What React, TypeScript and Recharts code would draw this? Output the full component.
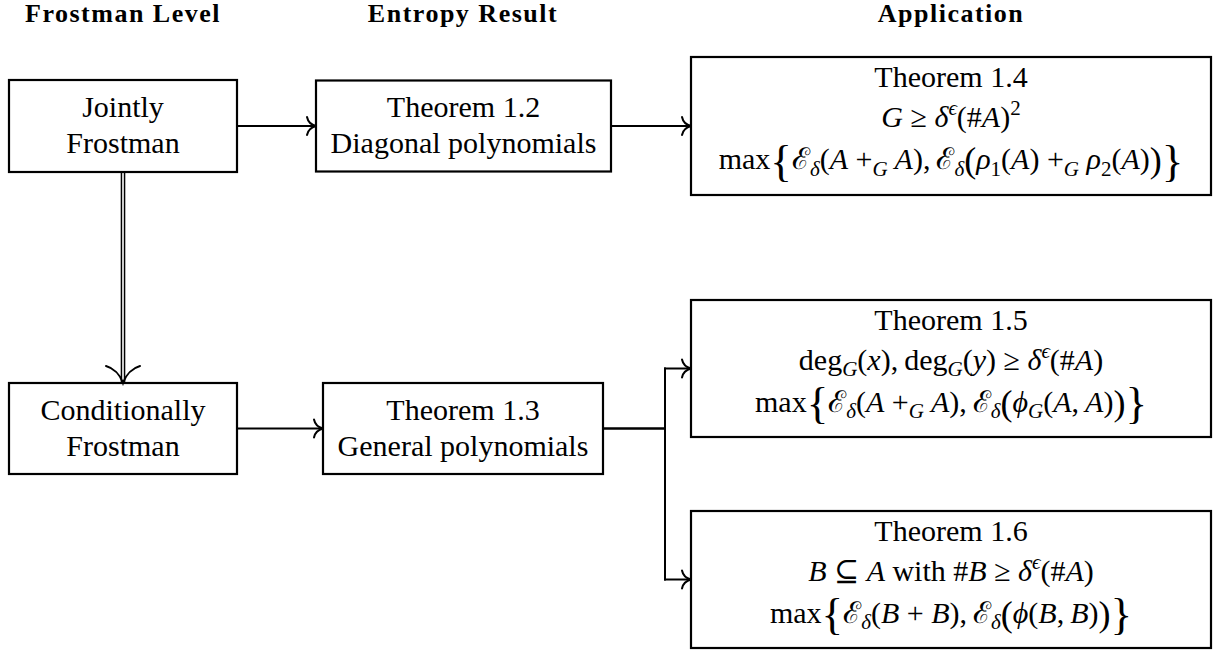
import React from 'react';
import { ScatterChart, Scatter, XAxis, YAxis, ReferenceLine } from 'recharts';

type Seg = [string, string];
type Line = Seg[];

const W = 1231;
const H = 652;

// column headers
const headers = ['Frostman Level', 'Entropy Result', 'Application'];
const headerX = [123, 463, 951];
const headerY = [22, 22, 22];

// nodes (centre of each box in chart units)
const nodeIds = ['jointly', 'thm12', 'thm14', 'conditionally', 'thm13', 'thm15', 'thm16'];
const nodeX = [123, 463.5, 951, 123, 463, 951, 951];
const nodeY = [126, 126, 126, 428.5, 428.5, 368.5, 579.5];

// r roman, i italic, sub/isub subscript, sup/isup superscript, big/big2 delimiters
const nodeLines: Line[][] = [
  [[['Jointly', 'r']], [['Frostman', 'r']]],
  [[['Theorem 1.2', 'r']], [['Diagonal polynomials', 'r']]],
  [
    [['Theorem 1.4', 'r']],
    [['G', 'i'], [' ≥ ', 'r'], ['δ', 'i'], ['ϵ', 'isup'], ['(#', 'r'], ['A', 'i'], [')', 'r'], ['2', 'sup']],
    [
      ['max', 'r'], ['{', 'big'], ['ℰ', 'r'], ['δ', 'isub'], ['(', 'r'], ['A', 'i'], [' +', 'r'], ['G', 'isub'],
      [' A', 'i'], ['),\u2009ℰ', 'r'], ['δ', 'isub'], ['(', 'big2'], ['ρ', 'i'], ['1', 'sub'], ['(', 'r'], ['A', 'i'],
      [') +', 'r'], ['G', 'isub'], [' ρ', 'i'], ['2', 'sub'], ['(', 'r'], ['A', 'i'], [')', 'r'], [')', 'big2'], ['}', 'big'],
    ],
  ],
  [[['Conditionally', 'r']], [['Frostman', 'r']]],
  [[['Theorem 1.3', 'r']], [['General polynomials', 'r']]],
  [
    [['Theorem 1.5', 'r']],
    [
      ['deg', 'r'], ['G', 'isub'], ['(', 'r'], ['x', 'i'], ['),\u2009deg', 'r'], ['G', 'isub'], ['(', 'r'], ['y', 'i'],
      [') ≥ ', 'r'], ['δ', 'i'], ['ϵ', 'isup'], ['(#', 'r'], ['A', 'i'], [')', 'r'],
    ],
    [
      ['max', 'r'], ['{', 'big'], ['ℰ', 'r'], ['δ', 'isub'], ['(', 'r'], ['A', 'i'], [' +', 'r'], ['G', 'isub'],
      [' A', 'i'], ['),\u2009ℰ', 'r'], ['δ', 'isub'], ['(', 'big2'], ['ϕ', 'i'], ['G', 'isub'], ['(', 'r'], ['A', 'i'],
      [',\u2009', 'r'], ['A', 'i'], [')', 'r'], [')', 'big2'], ['}', 'big'],
    ],
  ],
  [
    [['Theorem 1.6', 'r']],
    [['B', 'i'], [' ⊆ ', 'r'], ['A', 'i'], [' with #', 'r'], ['B', 'i'], [' ≥ ', 'r'], ['δ', 'i'], ['ϵ', 'isup'], ['(#', 'r'], ['A', 'i'], [')', 'r']],
    [
      ['max', 'r'], ['{', 'big'], ['ℰ', 'r'], ['δ', 'isub'], ['(', 'r'], ['B', 'i'], [' + ', 'r'], ['B', 'i'],
      ['),\u2009ℰ', 'r'], ['δ', 'isub'], ['(', 'big2'], ['ϕ', 'i'], ['(', 'r'], ['B', 'i'], [',\u2009', 'r'], ['B', 'i'],
      [')', 'r'], [')', 'big2'], ['}', 'big'],
    ],
  ],
];

// connections
const straightEdges = [['jointly', 'thm12'], ['thm12', 'thm14'], ['conditionally', 'thm13']];
const doubleEdges = [['jointly', 'conditionally']];
const branchEdges = [['thm13', 'thm15'], ['thm13', 'thm16']];

// layout / style
const boxSize: Record<string, [number, number]> = {
  jointly: [228, 92],
  thm12: [295, 91],
  thm14: [520, 138],
  conditionally: [228, 91],
  thm13: [280, 91],
  thm15: [520, 137],
  thm16: [520, 137],
};
const lineOffsets: Record<number, number[]> = { 2: [-9, 27], 3: [-39, 1, 43] };
const FONT = "'Liberation Serif', 'Times New Roman', 'DejaVu Serif', serif";
const FS = 30;
const BRANCH_GAP = 26;

function mathSpans(segs: Line, size: number) {
  let shift = 0;
  return segs.map(([t, k], i) => {
    let target = 0;
    let fs = size;
    let italic = k === 'i';
    if (k === 'sub' || k === 'isub') { target = size * 0.22; fs = size * 0.7; italic = k === 'isub'; }
    if (k === 'sup' || k === 'isup') { target = -size * 0.4; fs = size * 0.7; italic = k === 'isup'; }
    if (k === 'big') { target = size * 0.22; fs = size * 1.5; }
    if (k === 'big2') { target = size * 0.1; fs = size * 1.2; }
    const dy = target - shift;
    shift = target;
    return (
      <tspan key={i} dy={dy} fontFamily={FONT} fontSize={fs} fontStyle={italic ? 'italic' : 'normal'}>
        {t}
      </tspan>
    );
  });
}

const geo = (id: string) => {
  const i = nodeIds.indexOf(id);
  const [w, h] = boxSize[id];
  return { x: nodeX[i], y: nodeY[i], w, h };
};

type Seg2 = { x1: number; y1: number; x2: number; y2: number };
const segments: Seg2[] = [];
const heads: { x: number; y: number; dir: string }[] = [];

straightEdges.forEach(([a, b]) => {
  const s = geo(a);
  const t = geo(b);
  segments.push({ x1: s.x + s.w / 2, y1: s.y, x2: t.x - t.w / 2 - 1, y2: s.y });
  heads.push({ x: t.x - t.w / 2, y: s.y, dir: 'right' });
});
branchEdges.forEach(([a, b]) => {
  const s = geo(a);
  const t = geo(b);
  const ex = t.x - t.w / 2 - BRANCH_GAP;
  segments.push({ x1: s.x + s.w / 2, y1: s.y, x2: ex, y2: s.y });
  segments.push({ x1: ex, y1: s.y, x2: ex, y2: t.y });
  segments.push({ x1: ex, y1: t.y, x2: t.x - t.w / 2 - 1, y2: t.y });
  heads.push({ x: t.x - t.w / 2, y: t.y, dir: 'right' });
});
const doubleSegs = doubleEdges.map(([a, b]) => {
  const s = geo(a);
  const t = geo(b);
  return { x1: s.x, y1: s.y + s.h / 2, x2: s.x, y2: t.y - t.h / 2 };
});

const headerData = headers.map((name, i) => ({ x: headerX[i], y: headerY[i], name }));
const nodeData = nodeIds.map((id, i) => ({ x: nodeX[i], y: nodeY[i], id, lines: nodeLines[i] }));
const doubleHeadData = doubleSegs.map((d) => ({ x: d.x2, y: d.y2 }));

const HeaderShape = (p: any) => (
  <text x={p.cx} y={p.cy} textAnchor="middle" fontFamily={FONT} fontWeight="bold" fontSize={26} letterSpacing={1.5} fill="#000">
    {p.payload.name}
  </text>
);

const BoxShape = (p: any) => {
  const [w, h] = boxSize[p.payload.id];
  const lines: Line[] = p.payload.lines;
  const offs = lineOffsets[lines.length];
  return (
    <g>
      <rect x={p.cx - w / 2} y={p.cy - h / 2} width={w} height={h} fill="#fff" stroke="#000" strokeWidth={2.2} />
      {lines.map((ln, i) => (
        <text key={i} x={p.cx} y={p.cy + offs[i]} textAnchor="middle" fontFamily={FONT} fontSize={FS} fill="#000" style={{ whiteSpace: 'pre' }}>
          {mathSpans(ln, FS)}
        </text>
      ))}
    </g>
  );
};

const HeadShape = (p: any) => (
  <path
    d="M -9 -9 C -8 -4 -4 -1 0 0 C -4 1 -8 4 -9 9"
    transform={`translate(${p.cx},${p.cy})`}
    fill="none"
    stroke="#000"
    strokeWidth={2}
    strokeLinecap="round"
  />
);

const DoubleHeadShape = (p: any) => (
  <path
    d="M -17 -17 C -10 -15 -3 -9 0 0 C 3 -9 10 -15 17 -17"
    transform={`translate(${p.cx},${p.cy})`}
    fill="none"
    stroke="#000"
    strokeWidth={2}
    strokeLinecap="round"
  />
);

export default function App() {
  return (
    <div style={{ position: 'absolute', left: 0, top: 0, width: W, height: H, background: '#fff' }}>
      <ScatterChart width={W} height={H} margin={{ top: 0, right: 0, bottom: 0, left: 0 }}>
        <XAxis type="number" dataKey="x" domain={[0, W]} hide />
        <YAxis type="number" dataKey="y" domain={[0, H]} reversed hide />
        {segments.map((s, i) => (
          <ReferenceLine
            key={'s' + i}
            segment={[{ x: s.x1, y: s.y1 }, { x: s.x2, y: s.y2 }]}
            stroke="#000"
            strokeWidth={2}
            strokeLinecap="square"
          />
        ))}
        {doubleSegs.map((s, i) => (
          <ReferenceLine key={'db' + i} segment={[{ x: s.x1, y: s.y1 }, { x: s.x2, y: s.y2 }]} stroke="#000" strokeWidth={4.6} />
        ))}
        {doubleSegs.map((s, i) => (
          <ReferenceLine key={'dw' + i} segment={[{ x: s.x1, y: s.y1 }, { x: s.x2, y: s.y2 - 3 }]} stroke="#fff" strokeWidth={1.6} />
        ))}
        <Scatter data={headerData} shape={HeaderShape} isAnimationActive={false} />
        <Scatter data={nodeData} shape={BoxShape} isAnimationActive={false} />
        <Scatter data={heads} shape={HeadShape} isAnimationActive={false} />
        <Scatter data={doubleHeadData} shape={DoubleHeadShape} isAnimationActive={false} />
      </ScatterChart>
    </div>
  );
}
